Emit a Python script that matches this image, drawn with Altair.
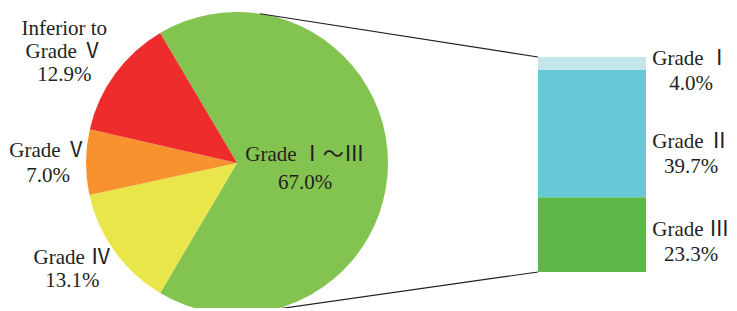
import math
import altair as alt
import pandas as pd

# ---------------- data ----------------
pie_labels = ["Grade Ⅰ～Ⅲ", "Grade Ⅳ", "Grade Ⅴ", "Inferior to\nGrade Ⅴ"]
pie_values = [67.0, 13.1, 7.0, 12.9]
pie_colors = ["#83C34F", "#E9E64B", "#F7922F", "#EE2C2C"]

bar_labels = ["Grade Ⅲ", "Grade Ⅱ", "Grade Ⅰ"]   # bottom to top
bar_values = [23.3, 39.7, 4.0]
bar_colors = ["#5EB847", "#67C9D5", "#C3E6EB"]

# ---------------- layout / style ----------------
W, H = 721, 300
CX, CY, R = 229, 155, 151
BAR_X_RANGE = [530, 638]
BAR_Y_RANGE = [264, 49]
LABEL_RADIUS = [68, 203, 189, 214]
LABEL_DY = [-8, -24, -11, -8]
LABEL_LH = [28, 23, 25, 23]
BAR_LABEL_X = 683
BAR_LABEL_DY = [-5, 8, -4]
TOP_LINK_DEG, BOTTOM_LINK_DEG = 8.8, 166.2
FONT = "Liberation Serif, Noto Sans CJK SC"
INK = "#231F20"
FS = 21
LH = 25

total = sum(pie_values)
start = math.radians(90 - pie_values[0] / total * 360 / 2) + 2 * math.pi

pie_df = pd.DataFrame({
    "label": pie_labels,
    "value": pie_values,
    "order": list(range(len(pie_labels))),
    "text": [f"{l}\n{v:.1f}%" for l, v in zip(pie_labels, pie_values)],
})

theta = alt.Theta("value:Q", stack=True,
                  scale=alt.Scale(range=[start, start + 2 * math.pi]))
order = alt.Order("order:Q")

arc = alt.Chart(pie_df).mark_arc(radius=R).encode(
    theta=theta, order=order,
    color=alt.Color("label:N", scale=alt.Scale(domain=pie_labels, range=pie_colors),
                    legend=None),
    x=alt.value(CX), y=alt.value(CY),
)


def pie_label(i):
    return alt.Chart(pie_df).transform_calculate(
        t=f"datum.order == {i} ? datum.text : ''"
    ).mark_text(
        font=FONT, fontSize=FS, lineBreak="\n", lineHeight=LABEL_LH[i], color=INK,
        align="center", baseline="middle",
        radius=LABEL_RADIUS[i], dy=LABEL_DY[i],
    ).encode(
        theta=theta, order=order, detail="label:N",
        text="t:N",
        x=alt.value(CX), y=alt.value(CY),
    )


# bar (breakdown of Grade I~III)
cum = []
acc = 0.0
for v in bar_values:
    cum.append(acc)
    acc += v
bar_df = pd.DataFrame({
    "grade": bar_labels,
    "value": bar_values,
    "idx": list(range(len(bar_labels))),
    "y0": cum,
    "y1": [c + v for c, v in zip(cum, bar_values)],
    "mid": [c + v / 2 for c, v in zip(cum, bar_values)],
    "x0": 0.0,
    "x1": 1.0,
    "text": [f"{l}\n{v:.1f}%" for l, v in zip(bar_labels, bar_values)],
})

xs = alt.Scale(domain=[0, 1], range=BAR_X_RANGE)
ys = alt.Scale(domain=[0, acc], range=BAR_Y_RANGE)

bar = alt.Chart(bar_df).mark_bar().encode(
    x=alt.X("x0:Q", scale=xs, axis=None), x2="x1:Q",
    y=alt.Y("y0:Q", scale=ys, axis=None), y2="y1:Q",
    color=alt.Color("grade:N", scale=alt.Scale(domain=bar_labels, range=bar_colors),
                    legend=None),
)


def bar_label(i):
    return alt.Chart(bar_df).transform_filter(f"datum.idx == {i}").mark_text(
        font=FONT, fontSize=FS, lineBreak="\n", lineHeight=LH, color=INK,
        align="center", baseline="middle", dy=BAR_LABEL_DY[i],
    ).encode(
        x=alt.value(BAR_LABEL_X),
        y=alt.Y("mid:Q", scale=ys, axis=None),
        text="text:N",
    )


def link(yval, deg):
    a = math.radians(deg)
    return alt.Chart(pd.DataFrame({"x": [0.0], "y": [yval]})).mark_rule(
        color=INK, strokeWidth=1.2
    ).encode(
        x=alt.X("x:Q", scale=xs, axis=None),
        y=alt.Y("y:Q", scale=ys, axis=None),
        x2=alt.value(CX + R * math.sin(a)),
        y2=alt.value(CY - R * math.cos(a)),
    )


layers = [arc] + [pie_label(i) for i in range(len(pie_labels))] + [
    link(acc, TOP_LINK_DEG), link(0.0, BOTTOM_LINK_DEG), bar
] + [bar_label(i) for i in range(len(bar_labels))]

chart = alt.layer(*layers).resolve_scale(color="independent").properties(
    width=W, height=H, padding=0, autosize="none"
).configure_view(stroke=None)

chart.save("out.html", embed_options={"renderer": "svg", "actions": False})
